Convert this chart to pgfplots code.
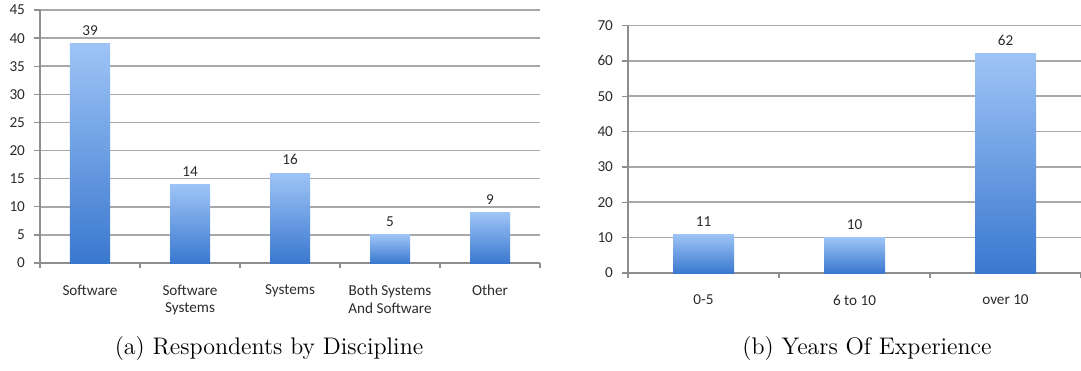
\documentclass[border=0pt]{standalone}
\usepackage{fontspec}
\usepackage{pgfplots}
\pgfplotsset{compat=1.18}
\newfontfamily\carlito{Carlito}

\definecolor{gridgray}{HTML}{A8A8A8}
\definecolor{axisgray}{HTML}{8E8E8E}
\definecolor{labelgray}{HTML}{2B2B2B}
\definecolor{barlight}{HTML}{9EC4F6}
\definecolor{bardark}{HTML}{3A78CF}

\newcommand{\chartfont}{\carlito\fontsize{7.6}{8.7}\selectfont}

\pgfplotsset{
  officebars/.style={
    scale only axis,
    axis x line*=bottom,
    axis y line*=left,
    axis line style={axisgray, line width=0.7pt, -},
    ymajorgrids,
    grid style={gridgray, line width=0.8pt},
    tick align=outside,
    major tick length=3pt,
    minor tick length=2.5pt,
    major x tick style={draw=none},
    minor x tick style={axisgray, line width=0.7pt},
    ytick style={axisgray, line width=0.7pt},
    ymin=0,
    /pgf/number format/assume math mode=true,
    tick label style={font=\chartfont, text=labelgray},
    xticklabel style={align=center, yshift=-4.5pt},
    yticklabel style={xshift=-1pt},
    nodes near coords,
    every node near coord/.append style={font=\chartfont, text=labelgray, yshift=0.5pt},
  },
  % each bar is its own path, so each one gets the full gradient
  gradientbar/.style={ybar, bar shift=0pt, draw=none, top color=barlight, bottom color=bardark},
}

\begin{document}
\begin{tikzpicture}
\useasboundingbox (0,0) rectangle (540.5pt,185pt);

% Respondents by discipline
\begin{axis}[officebars,
  at={(20pt,53.5pt)}, anchor=south west,
  width=250pt, height=126.5pt,
  xmin=-0.5, xmax=4.5,
  ymax=45, ytick={0,5,...,45},
  xtick={0,1,2,3,4},
  minor xtick={-0.5,0.5,...,4.5},
  xticklabels={Software, {Software\\Systems}, Systems, {Both Systems\\And Software}, Other},
  gradientbar/.append style={bar width=20pt},
]
\addplot[gradientbar] coordinates {(0,39)};
\addplot[gradientbar] coordinates {(1,14)};
\addplot[gradientbar] coordinates {(2,16)};
\addplot[gradientbar] coordinates {(3,5)};
\addplot[gradientbar] coordinates {(4,9)};
\end{axis}

% Years of experience
\begin{axis}[officebars,
  at={(314pt,48.5pt)}, anchor=south west,
  width=226.5pt, height=123.75pt,
  xmin=-0.5, xmax=2.5,
  ymax=70, ytick={0,10,...,70},
  xtick={0,1,2},
  minor xtick={-0.5,0.5,...,2.5},
  xticklabels={0-5, 6 to 10, over 10},
  gradientbar/.append style={bar width=30.5pt},
]
\addplot[gradientbar] coordinates {(0,11)};
\addplot[gradientbar] coordinates {(1,10)};
\addplot[gradientbar] coordinates {(2,62)};
\end{axis}

\node at (134.5pt,10.5pt) {\fontsize{12}{14}\selectfont (a) Respondents by Discipline};
\node at (433.5pt,10.5pt) {\fontsize{12}{14}\selectfont (b) Years Of Experience};
\end{tikzpicture}
\end{document}
